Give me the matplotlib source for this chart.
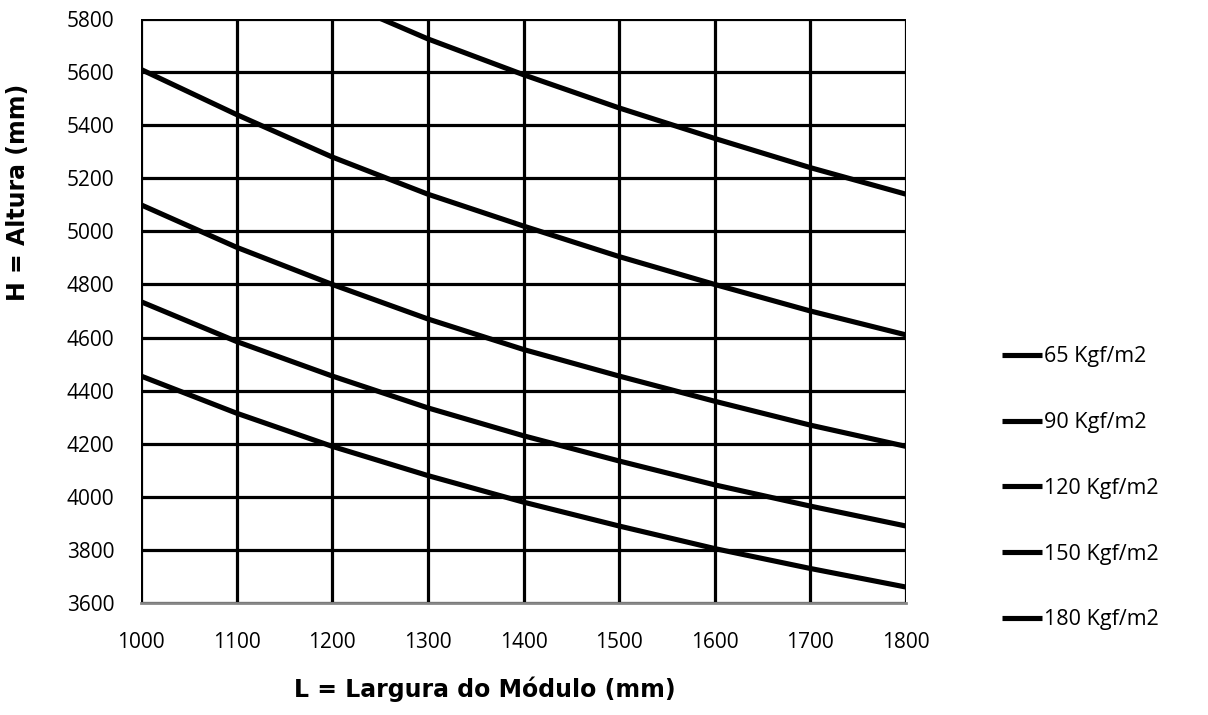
import matplotlib
matplotlib.use("Agg")
import matplotlib.pyplot as plt

L = [1000, 1100, 1200, 1300, 1400, 1500, 1600, 1700, 1800]
labels = ["65 Kgf/m2", "90 Kgf/m2", "120 Kgf/m2", "150 Kgf/m2", "180 Kgf/m2"]
h65 = [None, None, 5880, 5725, 5590, 5465, 5350, 5240, 5140]
h90 = [5610, 5440, 5280, 5140, 5020, 4905, 4800, 4700, 4610]
h120 = [5100, 4940, 4800, 4670, 4555, 4455, 4360, 4270, 4190]
h150 = [4735, 4585, 4455, 4335, 4230, 4135, 4045, 3965, 3890]
h180 = [4455, 4315, 4190, 4080, 3980, 3890, 3805, 3730, 3660]
series = [h65, h90, h120, h150, h180]
xticks = list(range(1000, 1801, 100))
yticks = list(range(3600, 5801, 200))

fig = plt.figure(figsize=(12.08, 7.15), dpi=100)
ax = fig.add_axes([141/1208, 1-603/715, (906-141)/1208, (603-19)/715])

for lab, s in zip(labels, series):
    xs = [x for x, v in zip(L, s) if v is not None]
    ys = [v for v in s if v is not None]
    ax.plot(xs, ys, color="black", lw=3.7, label=lab, solid_capstyle="butt")

ax.set_xlim(1000, 1800)
ax.set_ylim(3600, 5800)
ax.set_xticks(xticks)
ax.set_yticks(yticks)
ax.grid(True, color="black", lw=2.3)
ax.set_axisbelow(True)
for sp in ["top", "right", "left"]:
    ax.spines[sp].set_visible(False)
ax.spines["bottom"].set_color("#888888")
ax.spines["bottom"].set_linewidth(2)
ax.tick_params(length=0, labelsize=15)
ax.tick_params(axis="y", pad=19)
ax.tick_params(axis="x", pad=21)
for t in ax.get_xticklabels() + ax.get_yticklabels():
    t.set_fontfamily("Open Sans")

ax.set_xlabel("L = Largura do Módulo (mm)", fontsize=17, fontweight="bold",
              family="DejaVu Sans")
ax.xaxis.set_label_coords((485-141)/765, (603-677)/584)
ax.set_ylabel("H = Altura (mm)", fontsize=17, fontweight="bold",
              family="DejaVu Sans")
ax.yaxis.set_label_coords((30-141)/765, (603-192)/584)

leg = fig.legend(loc="upper left", bbox_to_anchor=(983/1208, 1-327/715), frameon=False,
                 handlelength=1.85, handletextpad=0.1, labelspacing=2.08,
                 prop={"family": "Open Sans", "size": 15.5})
fig.savefig("out.png", dpi=100)
